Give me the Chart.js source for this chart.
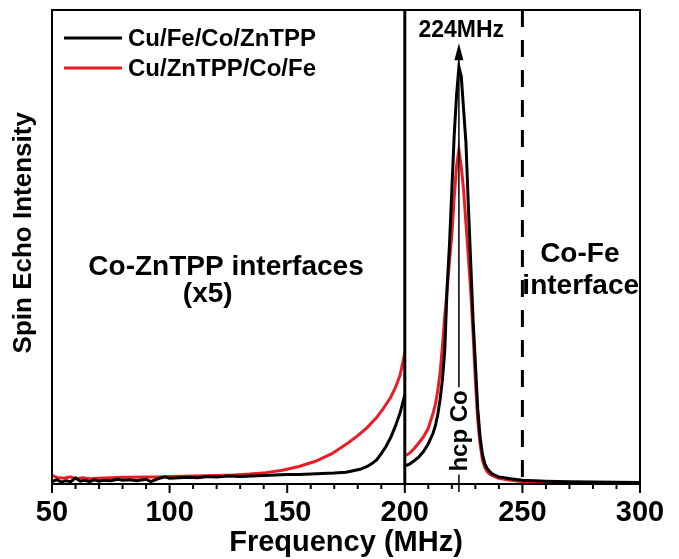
<!DOCTYPE html>
<html>
<head>
<meta charset="utf-8">
<script src="https://cdn.jsdelivr.net/npm/chart.js@4.4.1/dist/chart.umd.min.js"></script>
<style>
  body { margin: 0; background: #fff; }
  #wrap { width: 679px; height: 559px; }
</style>
</head>
<body>
<div id="wrap"><canvas id="nmrChart"></canvas></div>
<script>
// values (intensity in arbitrary units, 0..100 = plot height)
const freqBlack = [50, 52, 54, 56, 58, 60, 62, 64, 66, 68, 70, 72, 75, 78, 80, 83, 86, 90, 92, 95,
    98, 100, 104, 108, 112, 116, 120, 125, 130, 135, 140, 145, 150, 155, 160, 165, 170, 175, 178, 181,
    184, 186, 188, 190, 192, 194, 196, 198, 200,
    200.2,
    200.5, 202, 204, 206, 208, 210, 212, 213, 214, 215, 216, 217, 218, 219, 220, 221, 222, 223, 224, 225,
    226, 227, 228, 229, 230, 231, 232, 233, 234, 235, 236, 237, 238, 240, 245, 250, 260, 270, 280, 290, 300];
const intensityBlack = [0.5, 0.9, 0.4, 0.7, 0.5, 1.3, 0.6, 0.8, 0.5, 0.9, 0.6, 0.8, 0.7, 1.0, 0.8, 0.9, 0.7, 1.0, 0.5, 1.1,
    1.5, 1.2, 1.3, 1.4, 1.3, 1.6, 1.5, 1.7, 1.6, 1.7, 1.8, 1.9, 2.0, 2.0, 2.1, 2.2, 2.3, 2.5, 2.8, 3.1,
    3.7, 4.3, 5.1, 6.4, 7.9, 9.8, 12.2, 15.0, 18.8,
    null,
    3.9, 4.2, 4.9, 5.7, 6.9, 8.5, 10.7, 12.3, 14.6, 17.8, 22.0, 28.3, 41.5, 50.5, 62.0, 73.5, 82.0, 88.0, 86.0, 79.0,
    72.0, 59.0, 47.0, 35.0, 25.5, 16.0, 10.0, 6.3, 4.3, 3.3, 2.7, 2.2, 1.9, 1.5, 1.1, 0.8, 0.6, 0.5, 0.4, 0.35, 0.3];

const freqRed = [50, 52, 55, 58, 60, 63, 66, 70, 75, 80, 85, 90, 95, 100, 110, 120, 127, 134, 141, 148,
    155, 162, 169, 176, 180, 184, 188, 191, 194, 196, 198, 200,
    200.2,
    200.5, 202, 204, 206, 208, 210, 212, 213, 214, 215, 216, 217, 218, 219, 220, 221, 222, 223, 224, 225,
    226, 227, 228, 229, 230, 231, 232, 233, 234, 235, 236, 238, 240, 245, 250, 260, 270, 280, 290, 300];
const intensityRed = [1.8, 1.4, 1.2, 1.5, 1.1, 1.3, 1.1, 1.2, 1.3, 1.4, 1.4, 1.5, 1.5, 1.6, 1.7, 1.8, 1.9, 2.1, 2.4, 2.9,
    3.7, 4.8, 6.4, 8.7, 10.2, 11.9, 14.0, 16.0, 18.3, 20.3, 23.0, 27.6,
    null,
    6.0, 6.5, 7.5, 8.7, 10.0, 11.8, 14.9, 16.8, 19.6, 23.5, 29.0, 35.5, 41.0, 47.0, 52.5, 60.5, 67.0, 70.5, 67.0, 62.0,
    55.0, 48.0, 41.0, 32.0, 22.0, 13.5, 8.5, 5.1, 3.5, 2.6, 2.1, 1.6, 1.2, 0.8, 0.5, 0.35, 0.25, 0.2, 0.15, 0.15];

const seriesLabels = ['Cu/Fe/Co/ZnTPP', 'Cu/ZnTPP/Co/Fe'];
const seriesColors = ['#000000', 'rgb(236,28,36)'];

const xTicksMajor = [50, 100, 150, 200, 250, 300];
const xTickMinorStep = 10;

// markers and notes, in data units
const solidLineAt = 200;
const dashedLineAt = 250;
const arrowAt = 223;
const arrowTip = 93;
const notes = [
    { text: 'Co-ZnTPP interfaces', x: 124, y: 44.1 },
    { text: '(x5)', x: 116.2, y: 38.4 },
    { text: 'Co-Fe', x: 274.4, y: 46.8 },
    { text: 'interface', x: 274.8, y: 40.0 },
];
const peakLabel = { text: '224MHz', x: 224, y: 94.3 };
const peakName = { text: 'hcp Co', x: 223, y: 11.2 };
const yTitle = { text: 'Spin Echo Intensity', y: 53 };

const FONT = '"Liberation Sans", Arial, Helvetica, sans-serif';

function toPoints(xs, ys) {
    return xs.map((v, i) => ({ x: v, y: ys[i] }));
}

const decorPlugin = {
    id: 'decor',
    afterDatasetsDraw(chart) {
        const { ctx, chartArea: a, scales: { x, y } } = chart;
        ctx.save();

        // solid line at 200 MHz
        ctx.strokeStyle = '#000';
        ctx.lineWidth = 3;
        ctx.beginPath();
        ctx.moveTo(x.getPixelForValue(solidLineAt), a.top);
        ctx.lineTo(x.getPixelForValue(solidLineAt), a.bottom);
        ctx.stroke();

        // dashed line at 250 MHz
        ctx.setLineDash([17, 13]);
        ctx.beginPath();
        ctx.moveTo(x.getPixelForValue(dashedLineAt), a.top);
        ctx.lineTo(x.getPixelForValue(dashedLineAt), a.bottom);
        ctx.stroke();
        ctx.setLineDash([]);

        // arrow up to the peak label
        const ax = x.getPixelForValue(arrowAt);
        const tipY = y.getPixelForValue(arrowTip);
        ctx.lineWidth = 1.5;
        ctx.beginPath();
        ctx.moveTo(ax, a.bottom + 8);
        ctx.lineTo(ax, tipY + 10);
        ctx.stroke();
        ctx.fillStyle = '#000';
        ctx.beginPath();
        ctx.moveTo(ax, tipY);
        ctx.lineTo(ax - 4.5, tipY + 17);
        ctx.lineTo(ax + 4.5, tipY + 17);
        ctx.closePath();
        ctx.fill();

        // rotated "hcp Co" with white box over the arrow
        ctx.font = 'bold 24px ' + FONT;
        const nameW = ctx.measureText(peakName.text).width;
        const nx = x.getPixelForValue(peakName.x);
        const ny = y.getPixelForValue(peakName.y);
        ctx.save();
        ctx.translate(nx, ny);
        ctx.rotate(-Math.PI / 2);
        ctx.fillStyle = '#fff';
        ctx.fillRect(-nameW / 2 - 3, -10, nameW + 6, 20);
        ctx.fillStyle = '#000';
        ctx.textAlign = 'center';
        ctx.textBaseline = 'middle';
        ctx.fillText(peakName.text, 0, 1);
        ctx.restore();

        // peak label
        ctx.font = 'bold 23px ' + FONT;
        ctx.textAlign = 'center';
        ctx.textBaseline = 'alphabetic';
        ctx.fillText(peakLabel.text, x.getPixelForValue(peakLabel.x), y.getPixelForValue(peakLabel.y));

        // region notes
        ctx.font = 'bold 28px ' + FONT;
        notes.forEach(n => {
            ctx.fillText(n.text, x.getPixelForValue(n.x), y.getPixelForValue(n.y));
        });

        // legend in the top left corner
        ctx.font = 'bold 24px ' + FONT;
        ctx.textAlign = 'left';
        ctx.textBaseline = 'middle';
        chart.data.datasets.forEach((ds, i) => {
            const rowY = a.top + 28 + i * 30;
            ctx.strokeStyle = ds.borderColor;
            ctx.lineWidth = 3;
            ctx.beginPath();
            ctx.moveTo(a.left + 12, rowY);
            ctx.lineTo(a.left + 70, rowY);
            ctx.stroke();
            ctx.fillStyle = '#000';
            ctx.fillText(ds.label, a.left + 76, rowY + 1.5);
        });

        ctx.restore();
    },
    afterDraw(chart) {
        const { ctx, chartArea: a, scales: { x, y } } = chart;
        ctx.save();
        ctx.strokeStyle = '#000';
        ctx.lineWidth = 2;
        ctx.strokeRect(a.left, a.top, a.right - a.left, a.bottom - a.top);

        // outward ticks on the frequency axis
        for (let v = x.min; v <= x.max; v += xTickMinorStep) {
            const px = x.getPixelForValue(v);
            const len = xTicksMajor.includes(v) ? 9 : 5;
            ctx.beginPath();
            ctx.moveTo(px, a.bottom);
            ctx.lineTo(px, a.bottom + len);
            ctx.stroke();
        }

        // y axis title, a little above the middle as in the original
        ctx.font = 'bold 26px ' + FONT;
        ctx.fillStyle = '#000';
        ctx.translate(y.left + 24, y.getPixelForValue(yTitle.y));
        ctx.rotate(-Math.PI / 2);
        ctx.textAlign = 'center';
        ctx.textBaseline = 'middle';
        ctx.fillText(yTitle.text, 0, 0);
        ctx.restore();
    }
};

window.onload = function() {
    const ctx = document.getElementById('nmrChart').getContext('2d');
    new Chart(ctx, {
        type: 'line',
        data: {
            datasets: [{
                label: seriesLabels[0],
                data: toPoints(freqBlack, intensityBlack),
                borderColor: seriesColors[0],
                borderWidth: 3,
                pointRadius: 0,
                tension: 0,
                spanGaps: false
            }, {
                label: seriesLabels[1],
                data: toPoints(freqRed, intensityRed),
                borderColor: seriesColors[1],
                borderWidth: 3,
                pointRadius: 0,
                tension: 0,
                spanGaps: false
            }]
        },
        options: {
            responsive: true,
            maintainAspectRatio: false,
            animation: false,
            layout: {
                padding: { left: 0, right: 39, top: 10, bottom: 0 }
            },
            scales: {
                x: {
                    type: 'linear',
                    min: 50,
                    max: 300,
                    grid: { display: false, drawTicks: true, tickLength: 14 },
                    border: { display: false },
                    ticks: {
                        stepSize: 50,
                        padding: 0,
                        color: '#000',
                        font: { family: FONT, size: 29, weight: 'bold', lineHeight: 1 }
                    },
                    title: {
                        display: true,
                        text: 'Frequency (MHz)',
                        color: '#000',
                        padding: { top: 1, bottom: 2 },
                        font: { family: FONT, size: 29, weight: 'bold', lineHeight: 1 }
                    }
                },
                y: {
                    min: 0,
                    max: 100,
                    grid: { display: false, drawTicks: false },
                    border: { display: false },
                    ticks: { display: false },
                    title: { display: false },
                    afterFit(scale) {
                        scale.width = 52;
                    }
                }
            },
            plugins: {
                legend: { display: false },
                tooltip: { enabled: false }
            }
        },
        plugins: [decorPlugin]
    });
};
</script>
</body>
</html>
